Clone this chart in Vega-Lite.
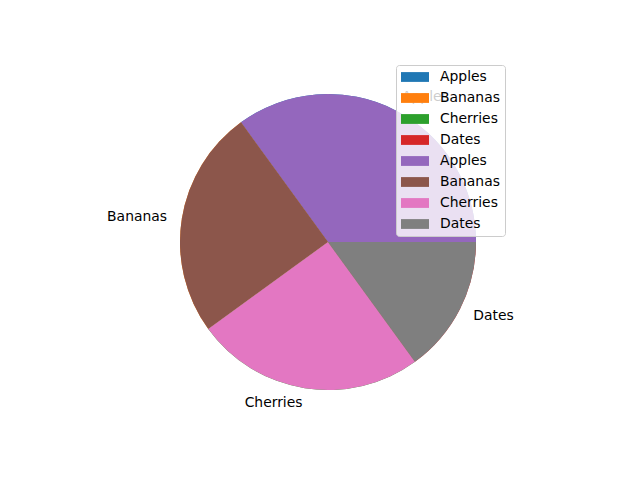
{
  "$schema": "https://vega.github.io/schema/vega-lite/v6.json",
  "width": 624,
  "height": 476,
  "autosize": "none",
  "padding": {"left": 16, "top": 4, "right": 0, "bottom": 0},
  "background": "white",
  "config": {"view": {"stroke": null}, "font": "DejaVu Sans"},
  "data": {
    "values": [
      {"set": 1, "idx": 1, "fruit": "Apples", "key": "1-Apples", "value": 35},
      {"set": 1, "idx": 2, "fruit": "Bananas", "key": "1-Bananas", "value": 25},
      {"set": 1, "idx": 3, "fruit": "Cherries", "key": "1-Cherries", "value": 25},
      {"set": 1, "idx": 4, "fruit": "Dates", "key": "1-Dates", "value": 15},
      {"set": 2, "idx": 1, "fruit": "Apples", "key": "2-Apples", "value": 35},
      {"set": 2, "idx": 2, "fruit": "Bananas", "key": "2-Bananas", "value": 25},
      {"set": 2, "idx": 3, "fruit": "Cherries", "key": "2-Cherries", "value": 25},
      {"set": 2, "idx": 4, "fruit": "Dates", "key": "2-Dates", "value": 15}
    ]
  },
  "layer": [
    {
      "transform": [{"filter": "datum.set == 1"}],
      "mark": {"type": "arc", "outerRadius": 148},
      "encoding": {
        "theta": {"field": "value", "type": "quantitative", "stack": true,
          "scale": {"domain": [0, 100], "range": [1.5707963, -4.712389]}},
        "order": {"field": "idx", "type": "quantitative"},
        "color": {
          "field": "key", "type": "nominal",
          "scale": {
            "domain": ["1-Apples", "1-Bananas", "1-Cherries", "1-Dates", "2-Apples", "2-Bananas", "2-Cherries", "2-Dates"],
            "range": ["#1f77b4", "#ff7f0e", "#2ca02c", "#d62728", "#9467bd", "#8c564b", "#e377c2", "#7f7f7f"]
          },
          "legend": {
            "title": null,
            "orient": "none",
            "legendX": 380,
            "legendY": 61,
            "labelExpr": "slice(datum.label, 2)",
            "symbolType": "M-2,-0.7L2,-0.7L2,0.7L-2,0.7Z",
            "symbolSize": 196,
            "symbolStrokeWidth": 0,
            "symbolOpacity": 1,
            "symbolOffset": 7,
            "labelOffset": 18,
            "labelFontSize": 13.9,
            "labelFont": "DejaVu Sans",
            "labelColor": "black",
            "labelLimit": 300,
            "rowPadding": 7,
            "padding": 5,
            "strokeColor": "#cccccc",
            "fillColor": "rgba(255,255,255,0.8)",
            "cornerRadius": 3
          }
        }
      }
    },
    {
      "transform": [{"filter": "datum.set == 2"}],
      "mark": {"type": "arc", "outerRadius": 148},
      "encoding": {
        "theta": {"field": "value", "type": "quantitative", "stack": true},
        "order": {"field": "idx", "type": "quantitative"},
        "color": {"field": "key", "type": "nominal"}
      }
    },
    {
      "transform": [{"filter": "datum.set == 2"}],
      "mark": {"type": "text", "radius": 163, "align": "left", "baseline": "middle", "fontSize": 13.9, "font": "DejaVu Sans", "color": "black"},
      "encoding": {
        "theta": {"field": "value", "type": "quantitative", "stack": true},
        "order": {"field": "idx", "type": "quantitative"},
        "detail": {"field": "key", "type": "nominal"},
        "text": {"condition": {"test": "datum.fruit == 'Apples' || datum.fruit == 'Dates'", "field": "fruit"}, "value": ""}
      }
    },
    {
      "transform": [{"filter": "datum.set == 2"}],
      "mark": {"type": "text", "radius": 163, "align": "right", "baseline": "middle", "fontSize": 13.9, "font": "DejaVu Sans", "color": "black"},
      "encoding": {
        "theta": {"field": "value", "type": "quantitative", "stack": true},
        "order": {"field": "idx", "type": "quantitative"},
        "detail": {"field": "key", "type": "nominal"},
        "text": {"condition": {"test": "datum.fruit == 'Bananas' || datum.fruit == 'Cherries'", "field": "fruit"}, "value": ""}
      }
    }
  ]
}
